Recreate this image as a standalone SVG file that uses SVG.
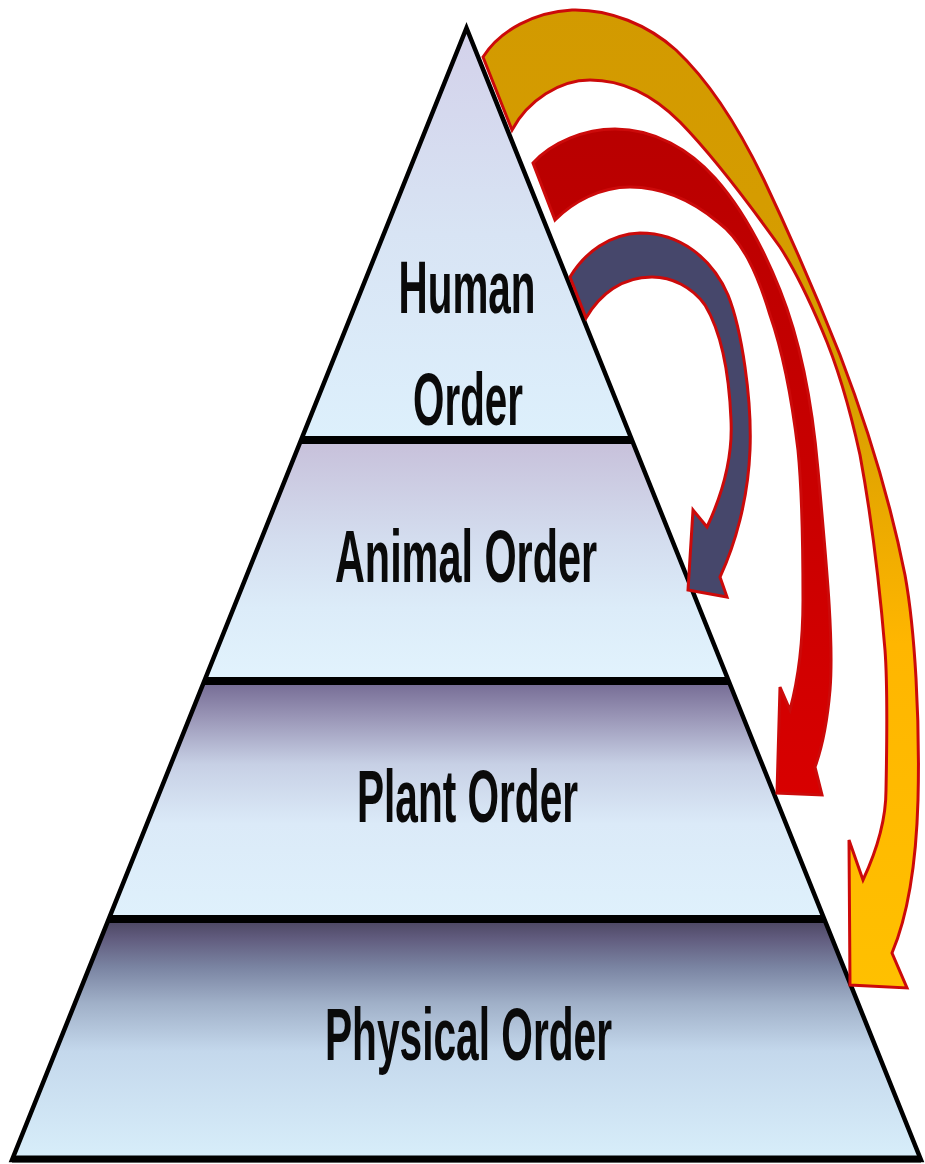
<svg xmlns="http://www.w3.org/2000/svg" width="925" height="1164" viewBox="0 0 925 1164">
<defs>
<style>
.lbl{font-family:"Liberation Sans",Arial,sans-serif;font-weight:bold;font-size:75px;fill:#0a0a0a;text-anchor:middle}
.edge{fill:none;stroke:#000;stroke-width:4.5;stroke-linejoin:miter}
.div{stroke:#000;stroke-width:8}
.arr{stroke:#cc0a0a;stroke-width:3;stroke-linejoin:miter}
</style>
<linearGradient id="gH" gradientUnits="userSpaceOnUse" x1="0" y1="28" x2="0" y2="440">
<stop offset="0" stop-color="#d3d1ea"/><stop offset="0.5" stop-color="#d8e4f4"/><stop offset="1" stop-color="#ddf0fc"/>
</linearGradient>
<linearGradient id="gA" gradientUnits="userSpaceOnUse" x1="0" y1="440" x2="0" y2="681">
<stop offset="0" stop-color="#c7c0da"/><stop offset="0.4" stop-color="#d3dcee"/><stop offset="0.7" stop-color="#dcecf9"/><stop offset="1" stop-color="#e2f3fd"/>
</linearGradient>
<linearGradient id="gP" gradientUnits="userSpaceOnUse" x1="0" y1="681" x2="0" y2="919">
<stop offset="0" stop-color="#746a93"/><stop offset="0.15" stop-color="#9995b6"/><stop offset="0.35" stop-color="#c7d0e5"/><stop offset="0.6" stop-color="#dbeaf8"/><stop offset="1" stop-color="#dff1fc"/>
</linearGradient>
<linearGradient id="gX" gradientUnits="userSpaceOnUse" x1="0" y1="919" x2="0" y2="1160">
<stop offset="0" stop-color="#4a4460"/><stop offset="0.08" stop-color="#615c7e"/><stop offset="0.2" stop-color="#7a84a2"/><stop offset="0.35" stop-color="#a0b0c8"/><stop offset="0.55" stop-color="#c4d8ec"/><stop offset="1" stop-color="#d8eefa"/>
</linearGradient>
<linearGradient id="gGold" gradientUnits="userSpaceOnUse" x1="0" y1="0" x2="0" y2="990">
<stop offset="0" stop-color="#d29a00"/><stop offset="0.4" stop-color="#d89e00"/><stop offset="0.65" stop-color="#ffb600"/><stop offset="1" stop-color="#ffc000"/>
</linearGradient>
<linearGradient id="gRed" gradientUnits="userSpaceOnUse" x1="0" y1="120" x2="0" y2="800">
<stop offset="0" stop-color="#b80000"/><stop offset="1" stop-color="#d80000"/>
</linearGradient>
</defs>
<rect width="925" height="1164" fill="#fff"/>
<g id="pyramid">
<g id="human-order">
<polygon points="466.5,28 301.1,440 631.9,440" fill="url(#gH)"/>
<text class="lbl" x="467" y="313" textLength="137" lengthAdjust="spacingAndGlyphs">Human</text>
<text class="lbl" x="468" y="425" textLength="110" lengthAdjust="spacingAndGlyphs">Order</text>
</g>
<g id="animal-order">
<polygon points="301.1,440 631.9,440 728.7,681 204.3,681" fill="url(#gA)"/>
<text class="lbl" x="466" y="582" textLength="262" lengthAdjust="spacingAndGlyphs">Animal Order</text>
</g>
<g id="plant-order">
<polygon points="204.3,681 728.7,681 824.2,919 108.8,919" fill="url(#gP)"/>
<text class="lbl" x="467.5" y="822" textLength="221" lengthAdjust="spacingAndGlyphs">Plant Order</text>
</g>
<g id="physical-order">
<polygon points="108.8,919 824.2,919 921,1160 12,1160" fill="url(#gX)"/>
<text class="lbl" x="468.5" y="1060" textLength="287" lengthAdjust="spacingAndGlyphs">Physical Order</text>
</g>
<line class="div" x1="301.1" y1="440" x2="631.9" y2="440"/>
<line class="div" x1="204.3" y1="681" x2="728.7" y2="681"/>
<line class="div" x1="108.8" y1="919" x2="824.2" y2="919"/>
<polygon class="edge" points="466.5,28 921,1160 12,1160"/>
<line x1="12" y1="1159" x2="921" y2="1159" stroke="#000" stroke-width="7"/>
</g>
<g id="connectors">
<path id="arrow-physical" class="arr" fill="url(#gGold)" d="M483,57 C500,30 535,12 572,10 C610,9 648,25 676,50 C708,80 738,126 764,180 C790,235 815,292 840,355 C865,420 890,500 905,575 C915,630 920,720 918,800 C916,870 906,920 892,953 L907,988 L850,985 L849,840 L863,880 C877,850 886,820 886,790 C887,740 888,690 885,650 C880,590 872,520 860,455 C848,400 835,360 822,330 C808,297 795,270 780,247 C755,212 715,158 680,122 C655,97 625,80 590,80 C560,80 528,100 512,130 Z"/>
<path id="arrow-plant" class="arr" fill="url(#gRed)" d="M533,163 C552,142 585,129 615,129 C655,129 690,150 715,178 C740,206 762,245 780,290 C800,340 812,400 818,470 C826,560 834,640 830,690 C827,725 822,748 815,767 L822,795 L777,793 L780,687 L790,710 C798,680 803,640 803,600 C803,540 802,490 798,450 C792,400 784,355 770,315 C757,272 742,240 718,222 C695,203 665,187 630,187 C600,187 573,202 555,220 Z"/>
<path id="arrow-animal" class="arr" fill="#46476b" d="M570,277 C585,252 610,234 640,233 C680,233 712,258 728,295 C742,330 752,400 750,450 C748,500 735,545 720,577 L727,597 L688,590 L693,510 L707,527 C722,495 733,460 731,420 C729,370 720,330 705,305 C692,287 672,277 652,277 C622,277 600,294 586,318 Z"/>
</g>
</svg>
